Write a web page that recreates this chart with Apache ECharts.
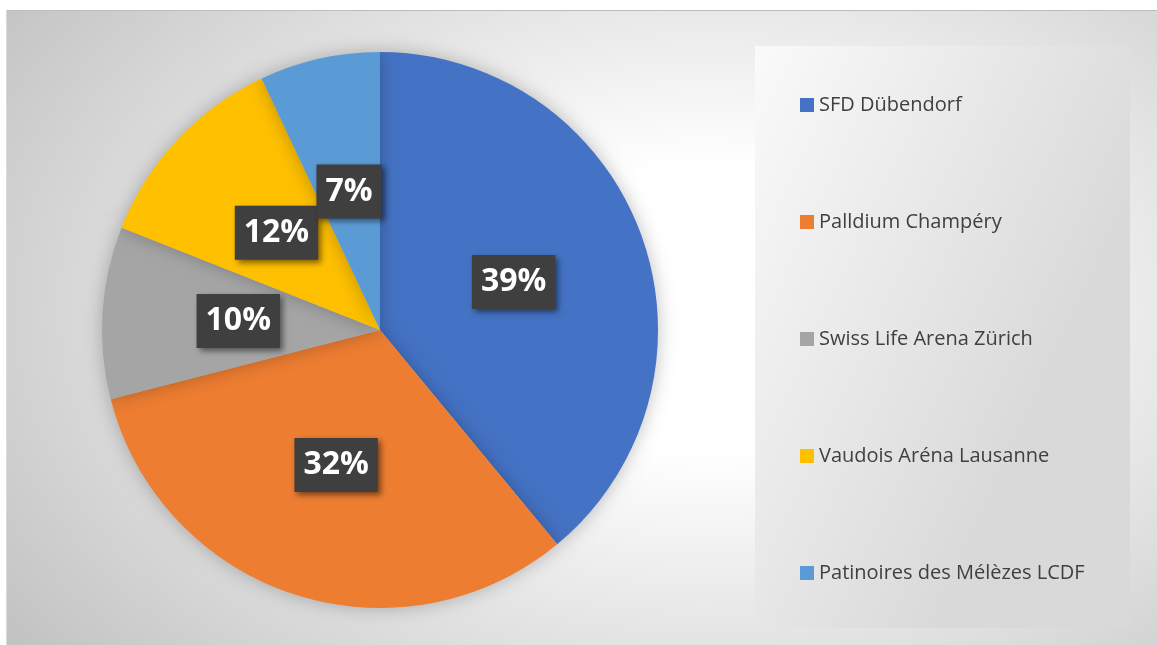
<!DOCTYPE html>
<html>
<head>
<meta charset="utf-8">
<script src="https://cdn.jsdelivr.net/npm/echarts@6/dist/echarts.min.js"></script>
<style>
    html, body { margin: 0; padding: 0; background: #fff; }
    #frame {
        position: absolute; left: 6px; top: 10px; width: 1151px; height: 635px;
        background: radial-gradient(ellipse 75% 90% at 61% 47%, #ffffff 0%, #ffffff 25%, #c2c2c2 100%);
        border-top: 1px solid #bdbdbd; border-left: 1px solid #dadada;
        box-sizing: border-box;
    }
    #chart { position: absolute; left: 0; top: 0; width: 1157px; height: 645px; }
</style>
</head>
<body>
<div id="frame"></div>
<div id="chart"></div>
<script>
var arenas = ['SFD Dübendorf', 'Palldium Champéry', 'Swiss Life Arena Zürich', 'Vaudois Aréna Lausanne', 'Patinoires des Mélèzes LCDF'];
var shares = [39, 32, 10, 12, 7];
var colors = ['#4472C4', '#ED7D31', '#A5A5A5', '#FFC000', '#5B9BD5'];

var pieData = [];
for (var i = 0; i < arenas.length; i++) {
    pieData.push({ name: arenas[i], value: shares[i] });
}

getechart("chart", {
    color: colors,
    backgroundColor: 'transparent',
    graphic: [{
        type: 'rect',
        z: -10,
        shape: { x: 755, y: 46, width: 375, height: 582 },
        style: {
            fill: new echarts.graphic.LinearGradient(0, 0, 1, 0.3, [
                { offset: 0, color: '#fafafa' },
                { offset: 1, color: '#d9d9d9' }
            ])
        }
    }],
    legend: {
        orient: 'vertical',
        left: 795,
        top: 88,
        itemWidth: 14,
        itemHeight: 14,
        itemGap: 93,
        icon: 'rect',
        textStyle: {
            fontFamily: 'Open Sans',
            fontSize: 20,
            lineHeight: 24,
            color: '#404040'
        },
        data: arenas
    },
    series: [{
        type: 'pie',
        center: [380, 330],
        radius: 278,
        startAngle: 90,
        clockwise: true,
        avoidLabelOverlap: false,
        labelLayout: { hideOverlap: false },
        itemStyle: {
            shadowBlur: 18,
            shadowColor: 'rgba(0,0,0,0.25)'
        },
        emphasis: { disabled: true },
        label: {
            position: 'inside',
            formatter: function (p) { return Math.round(p.percent) + '%'; },
            color: '#fff',
            fontFamily: 'Open Sans',
            fontWeight: 'bold',
            fontSize: 32,
            lineHeight: 34,
            backgroundColor: '#3f3f3f',
            padding: [10, 9],
            shadowColor: 'rgba(0,0,0,0.5)',
            shadowBlur: 6,
            shadowOffsetX: 3,
            shadowOffsetY: 3
        },
        labelLine: { show: false },
        data: pieData
    }]
});

function getechart(idName, idOption) {
    var id = echarts.init(document.getElementById(idName));
    id.setOption(idOption);
    window.addEventListener('resize', function () {
        id.resize();
    });
}
</script>
</body>
</html>
